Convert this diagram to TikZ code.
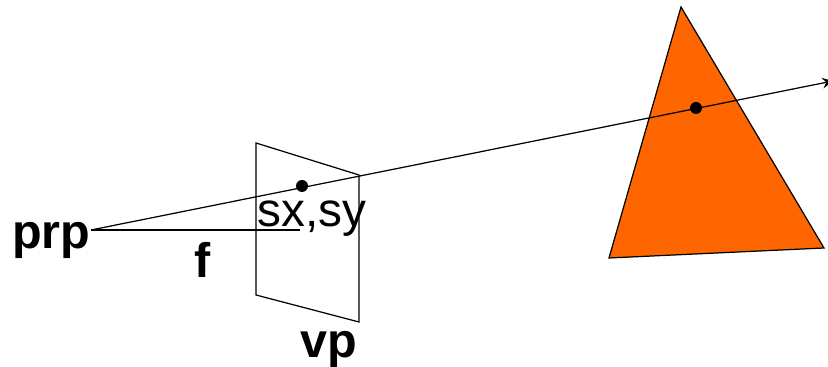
\documentclass[tikz,border=0pt]{standalone}
\usepackage{fontspec}
\setmainfont{Liberation Sans}
\definecolor{triorange}{HTML}{FF6600}
\tikzset{
  lbl/.style={inner sep=0pt, anchor=base west, font=\fontsize{13.8pt}{15pt}\selectfont\bfseries},
  lblthin/.style={inner sep=0pt, anchor=base west, font=\fontsize{13.6pt}{15pt}\selectfont},
  hitdot/.style={circle, fill=black, inner sep=0pt, minimum size=0.12cm}
}
\begin{document}
\begin{tikzpicture}[>=stealth, line width=0.35pt]
  \useasboundingbox (0,0) rectangle (8.28,3.67);
  % triangle and view plane
  \fill[triorange] (6.81,3.60) -- (6.09,1.09) -- (8.24,1.19) -- cycle;
  \draw (6.81,3.60) coordinate (apex) -- (6.09,1.09) coordinate (left) -- (8.24,1.19) coordinate (right) -- cycle;
  \draw (2.56,2.24) -- (3.59,1.92) -- (3.59,0.45) -- (2.56,0.72) -- cycle;
  % points
  \coordinate (eye) at (0.91,1.37);
  \coordinate (tip) at (8.33,2.86);
  \coordinate (foot) at (3.00,1.37);
  \node[hitdot] (sample) at (3.02,1.81) {};
  \node[hitdot] (hit) at (6.96,2.59) {};
  \draw[->] (eye) -- (tip);
  \draw (eye) -- (foot);
  % labels
  \node[lbl] (prp) at (0.115,1.18) {prp};
  \node[lbl] (f) at (1.94,0.89) {f};
  \node[lblthin] (sxsy) at (2.57,1.40) {sx,sy};
  \node[lbl] (vp) at (3.00,0.09) {vp};
\end{tikzpicture}
\end{document}
